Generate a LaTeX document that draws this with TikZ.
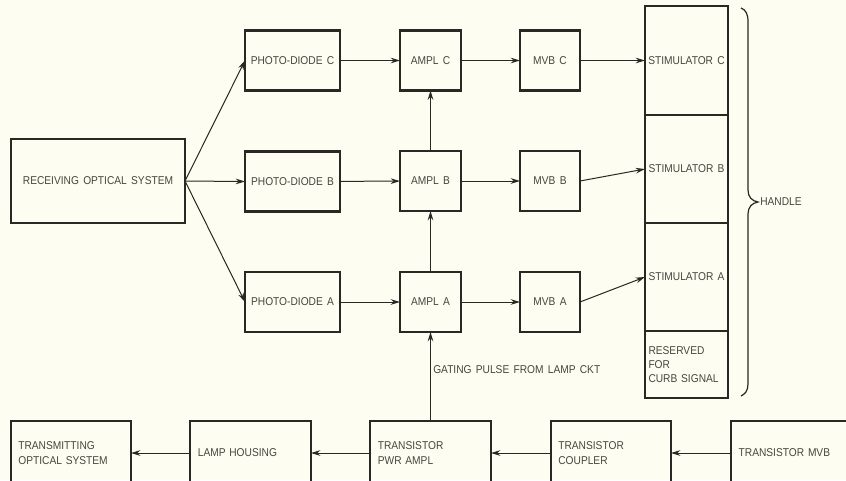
\documentclass[tikz,border=0pt]{standalone}
\usepackage{fontspec}
\setmainfont{Liberation Sans}[FakeStretch=0.9,WordSpace=1.5]
\usetikzlibrary{arrows.meta}
\definecolor{paper}{RGB}{253,253,241}
\definecolor{ink}{RGB}{40,40,36}
\definecolor{txt}{RGB}{70,70,64}
\tikzset{
  blk/.style={draw=ink,line width=1.7pt,rectangle,inner sep=0pt,outer sep=0pt,
    text=txt,font=\fontsize{8.5pt}{11pt}\selectfont,align=center},
  lblk/.style={blk,align=left,text width=#1,inner xsep=5.5pt},
  arr/.style={draw=ink,line width=0.75pt,-{Stealth[length=7pt,width=4.2pt]}},
  lab/.style={text=txt,font=\fontsize{8.5pt}{11pt}\selectfont,inner sep=0pt}
}
\begin{document}
\begin{tikzpicture}[x=0.75pt,y=-0.75pt]
\fill[paper] (0,0) rectangle (846,480);
\useasboundingbox (0,0) rectangle (846,480);
\clip (0,0) rectangle (846,480);

% receiving side
\node[blk,minimum width=130.5pt,minimum height=63pt] (recv) at (98,181) {RECEIVING OPTICAL SYSTEM};
\node[blk,minimum width=71.25pt,minimum height=45pt] (pdC) at (292.5,60.5) {PHOTO-DIODE C};
\node[blk,minimum width=71.25pt,minimum height=45pt] (pdB) at (292.5,181.5) {PHOTO-DIODE B};
\node[blk,minimum width=71.25pt,minimum height=45pt] (pdA) at (292.5,302) {PHOTO-DIODE A};
\node[blk,minimum width=45.75pt,minimum height=45pt] (amC) at (430.5,60.5) {AMPL C};
\node[blk,minimum width=45.75pt,minimum height=45pt] (amB) at (430.5,181) {AMPL B};
\node[blk,minimum width=45.75pt,minimum height=45pt] (amA) at (430.5,302) {AMPL A};
\node[blk,minimum width=45pt,minimum height=45pt] (mvC) at (550,60.5) {MVB C};
\node[blk,minimum width=45pt,minimum height=45pt] (mvB) at (550,181) {MVB B};
\node[blk,minimum width=45pt,minimum height=45pt] (mvA) at (550,302) {MVB A};

% stimulator column
\node[blk,minimum width=62.25pt,minimum height=81.75pt] (stC) at (686.5,60.5) {STIMULATOR C};
\node[blk,minimum width=62.25pt,minimum height=81pt] (stB) at (686.5,169) {STIMULATOR B};
\node[blk,minimum width=62.25pt,minimum height=81pt] (stA) at (686.5,277) {STIMULATOR A};
\node[blk,align=left,text width=57pt,inner xsep=2.6pt,minimum width=62.25pt,minimum height=50.25pt,font=\fontsize{8.5pt}{10.8pt}\selectfont] (res) at (686.5,364.5) {RESERVED\\FOR\\CURB~SIGNAL};

% handle brace
\draw[ink,line width=0.9pt] (741,8) .. controls (746,10) and (748,14) .. (748,22) -- (748,190)
  .. controls (748,197) and (752,201) .. (758,202)
  .. controls (752,203) and (748,207) .. (748,214) -- (748,384)
  .. controls (748,391) and (745,394) .. (741,396);
\node[lab,anchor=west] (handle) at (760,202) {HANDLE};

% transmitting side (bottom row)
\node[lblk=79pt,minimum width=90pt,minimum height=48pt] (trans) at (71,453) {TRANSMITTING\\OPTICAL SYSTEM};
\node[lblk=79pt,minimum width=90.75pt,minimum height=48pt] (lamp) at (250.5,453) {LAMP HOUSING};
\node[lblk=79pt,minimum width=90.75pt,minimum height=48pt] (pwr) at (430.5,453) {TRANSISTOR\\PWR AMPL};
\node[lblk=79pt,minimum width=90pt,minimum height=48pt] (coup) at (611,453) {TRANSISTOR\\COUPLER};
\node[lblk=86pt,minimum width=97.5pt,minimum height=48pt] (tmvb) at (796,453) {TRANSISTOR MVB};

% connectors
\draw[arr] (recv.east) -- (pdC.west);
\draw[arr] (recv.east) -- (pdB.west);
\draw[arr] (recv.east) -- (pdA.west);
\draw[arr] (pdC) -- (amC);
\draw[arr] (pdB) -- (amB);
\draw[arr] (pdA) -- (amA);
\draw[arr] (amC) -- (mvC);
\draw[arr] (amB) -- (mvB);
\draw[arr] (amA) -- (mvA);
\draw[arr] (mvC.east) -- (stC.west);
\draw[arr] (mvB.east) -- (stB.west);
\draw[arr] (mvA.east) -- (stA.west);
\draw[arr] (amA) -- (amB);
\draw[arr] (amB) -- (amC);
\draw[arr] (pwr.north) -- (amA.south);
\node[lab,anchor=west] (gate) at (433,370) {GATING PULSE FROM LAMP CKT};
\draw[arr] (tmvb) -- (coup);
\draw[arr] (coup) -- (pwr);
\draw[arr] (pwr) -- (lamp);
\draw[arr] (lamp) -- (trans);
\end{tikzpicture}
\end{document}
